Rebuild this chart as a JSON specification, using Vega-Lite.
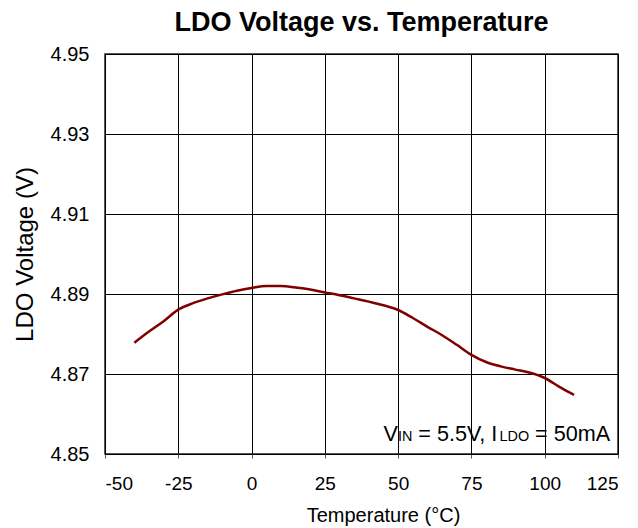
{
  "$schema": "https://vega.github.io/schema/vega-lite/v6.json",
  "width": 513,
  "height": 400,
  "autosize": {"type": "none"},
  "padding": {"left": 105, "top": 54, "right": 20, "bottom": 74},
  "background": "white",
  "config": {
    "font": "Liberation Sans",
    "view": {"stroke": "#222222", "strokeWidth": 1.5}
  },
  "title": {
    "text": "LDO Voltage vs. Temperature",
    "fontSize": 27,
    "fontWeight": "bold",
    "color": "#000000",
    "anchor": "middle",
    "offset": 7
  },
  "layer": [
    {
      "data": {
        "values": [
          {"T": -40, "V": 4.8778},
          {"T": -35, "V": 4.8806},
          {"T": -30, "V": 4.8832},
          {"T": -25, "V": 4.8861},
          {"T": -20, "V": 4.8877},
          {"T": -15, "V": 4.8889},
          {"T": -10, "V": 4.8899},
          {"T": -5, "V": 4.8908},
          {"T": 0, "V": 4.8915},
          {"T": 5, "V": 4.8920},
          {"T": 10, "V": 4.8920},
          {"T": 15, "V": 4.8916},
          {"T": 20, "V": 4.8911},
          {"T": 25, "V": 4.8904},
          {"T": 30, "V": 4.8897},
          {"T": 35, "V": 4.8889},
          {"T": 40, "V": 4.8881},
          {"T": 45, "V": 4.8872},
          {"T": 50, "V": 4.8860},
          {"T": 55, "V": 4.8840},
          {"T": 60, "V": 4.8818},
          {"T": 65, "V": 4.8797},
          {"T": 70, "V": 4.8773},
          {"T": 75, "V": 4.8748},
          {"T": 80, "V": 4.8730},
          {"T": 85, "V": 4.8719},
          {"T": 90, "V": 4.8711},
          {"T": 95, "V": 4.8703},
          {"T": 100, "V": 4.8690},
          {"T": 105, "V": 4.8668},
          {"T": 110, "V": 4.8648}
        ]
      },
      "mark": {"type": "line", "color": "#800000", "strokeWidth": 2.5, "interpolate": "monotone"},
      "encoding": {
        "x": {
          "field": "T",
          "type": "quantitative",
          "scale": {"domain": [-50, 125], "nice": false, "zero": false},
          "axis": {
            "values": [-50, -25, 0, 25, 50, 75, 100, 125],
            "format": "d",
            "labelExpr": "replace(datum.label, '−', '-')",
            "title": "Temperature (°C)",
            "titleFontSize": 20,
            "titleFontWeight": "normal",
            "titleColor": "#000000",
            "titleX": 278,
            "titlePadding": 12,
            "labelFontSize": 19,
            "labelColor": "#000000",
            "labelPadding": 16,
            "tickSize": 4,
            "tickColor": "#555555",
            "domain": false,
            "grid": true,
            "gridColor": "#000000",
            "gridWidth": 1,
            "gridOpacity": 1
          }
        },
        "y": {
          "field": "V",
          "type": "quantitative",
          "scale": {"domain": [4.85, 4.95], "nice": false, "zero": false},
          "axis": {
            "values": [4.85, 4.87, 4.89, 4.91, 4.93, 4.95],
            "format": ".2f",
            "title": "LDO Voltage (V)",
            "titleFontSize": 24,
            "titleFontWeight": "normal",
            "titleColor": "#000000",
            "titlePadding": 13,
            "labelFontSize": 20,
            "labelColor": "#000000",
            "labelPadding": 16,
            "ticks": false,
            "domain": false,
            "grid": true,
            "gridColor": "#000000",
            "gridWidth": 1,
            "gridOpacity": 1
          }
        }
      }
    },
    {
      "data": {"values": [{}]},
      "mark": {"type": "text", "text": "V", "fontSize": 21.6, "align": "left", "baseline": "alphabetic", "color": "#000000", "dx": 0},
      "encoding": {"x": {"datum": 45}, "y": {"datum": 4.8532}}
    },
    {
      "data": {"values": [{}]},
      "mark": {"type": "text", "text": "IN", "fontSize": 14.4, "align": "left", "baseline": "alphabetic", "color": "#000000", "dx": 14.4},
      "encoding": {"x": {"datum": 45}, "y": {"datum": 4.8532}}
    },
    {
      "data": {"values": [{}]},
      "mark": {"type": "text", "text": "= 5.5V, I", "fontSize": 21.6, "align": "left", "baseline": "alphabetic", "color": "#000000", "dx": 34.8},
      "encoding": {"x": {"datum": 45}, "y": {"datum": 4.8532}}
    },
    {
      "data": {"values": [{}]},
      "mark": {"type": "text", "text": "LDO", "fontSize": 14.4, "align": "left", "baseline": "alphabetic", "color": "#000000", "dx": 116},
      "encoding": {"x": {"datum": 45}, "y": {"datum": 4.8532}}
    },
    {
      "data": {"values": [{}]},
      "mark": {"type": "text", "text": "= 50mA", "fontSize": 21.6, "align": "left", "baseline": "alphabetic", "color": "#000000", "dx": 151.6},
      "encoding": {"x": {"datum": 45}, "y": {"datum": 4.8532}}
    }
  ]
}
